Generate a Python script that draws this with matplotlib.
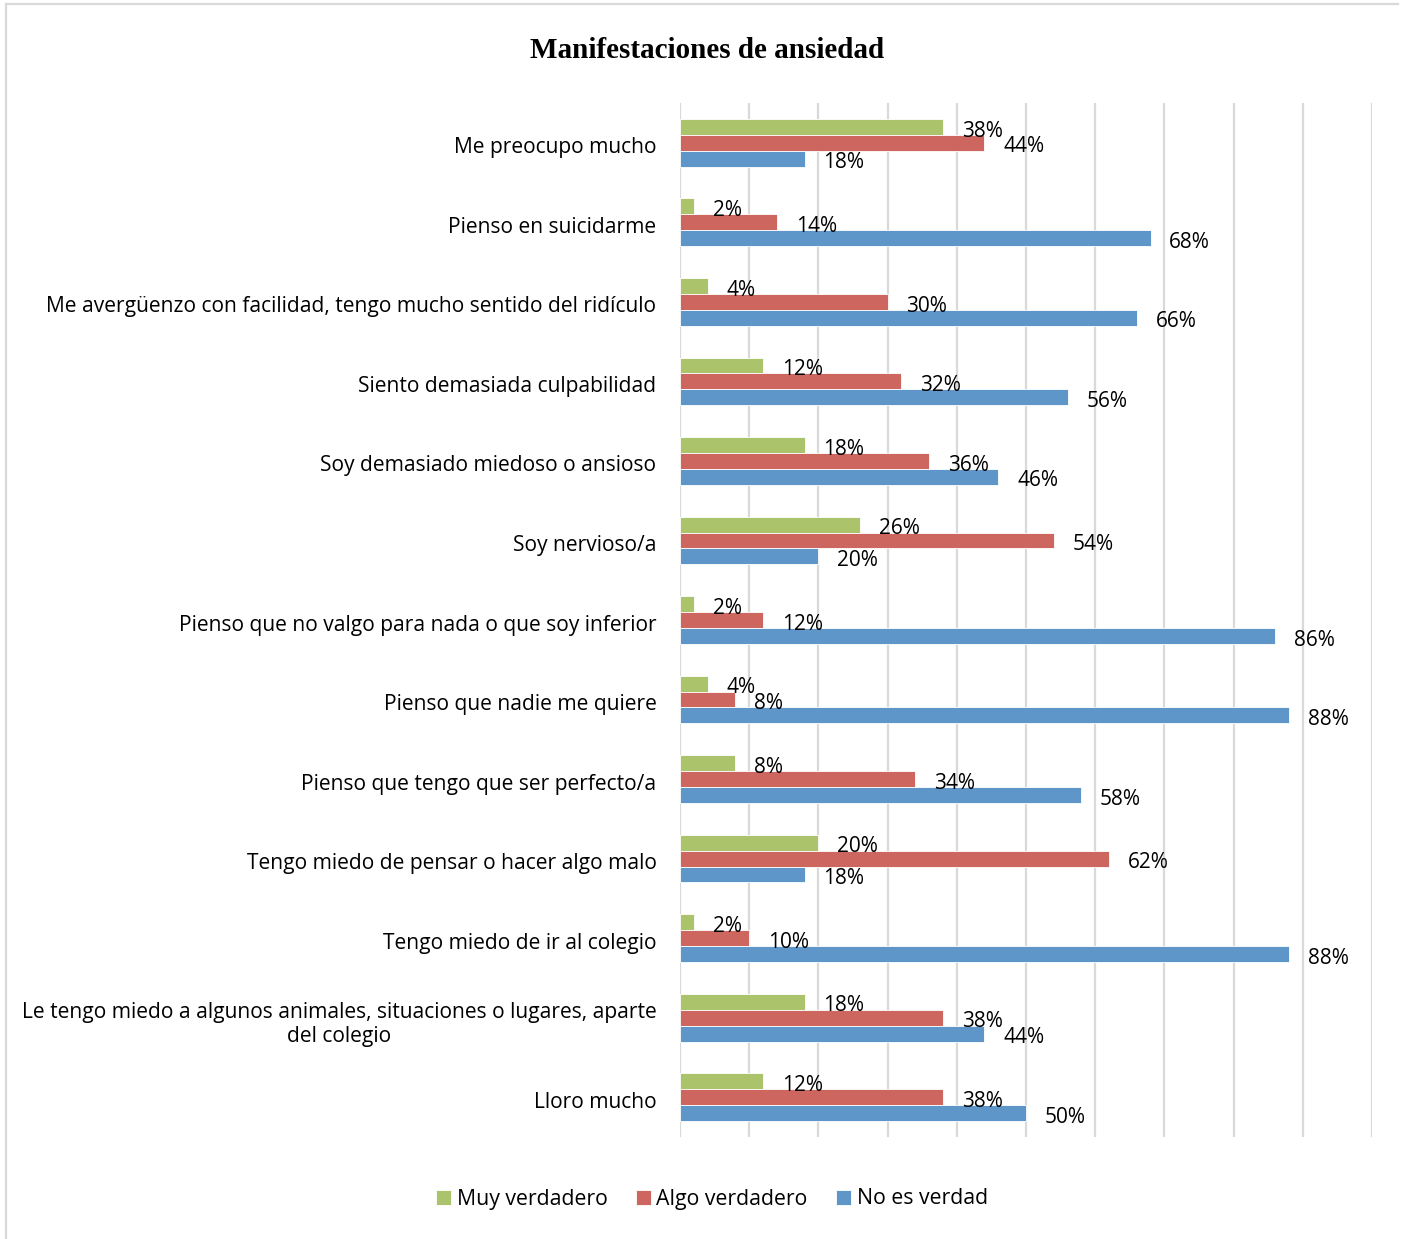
import matplotlib
matplotlib.use("Agg")
import matplotlib.pyplot as plt
from matplotlib.lines import Line2D
import matplotlib.transforms as mtransforms
import numpy as np

categories = [
    "Me preocupo mucho",
    "Pienso en suicidarme",
    "Me avergüenzo con facilidad, tengo mucho sentido del ridículo",
    "Siento demasiada culpabilidad",
    "Soy demasiado miedoso o ansioso",
    "Soy nervioso/a",
    "Pienso que no valgo para nada o que soy inferior",
    "Pienso que nadie me quiere",
    "Pienso que tengo que ser perfecto/a",
    "Tengo miedo de pensar o hacer algo malo",
    "Tengo miedo de ir al colegio",
    "Le tengo miedo a algunos animales, situaciones o lugares, aparte\ndel colegio",
    "Lloro mucho",
]
muy_verdadero = [38, 2, 4, 12, 18, 26, 2, 4, 8, 20, 2, 18, 12]
algo_verdadero = [44, 14, 30, 32, 36, 54, 12, 8, 34, 62, 10, 38, 38]
no_es_verdad = [18, 68, 66, 56, 46, 20, 86, 88, 58, 18, 88, 44, 50]
series_names = ["Muy verdadero", "Algo verdadero", "No es verdad"]
colors = ["#ABC46B", "#CD665E", "#5F96C9"]

label_font = ["Open Sans", "DejaVu Sans"]

fig = plt.figure(figsize=(14.05, 12.39), dpi=100)
ax = fig.add_axes([680/1405, 1 - 1137/1239, (1372-680)/1405, (1137-103)/1239])

n = len(categories)
y = np.arange(n)
h = 0.2
data = [muy_verdadero, algo_verdadero, no_es_verdad]
offsets = [-h, 0, h]
for vals, off, c, name in zip(data, offsets, colors, series_names):
    ax.barh(y + off, vals, height=h, color=c, edgecolor="white", linewidth=0.6, label=name, zorder=3)
    for yi, v in zip(y + off, vals):
        ax.annotate(f"{v}%", xy=(v, yi), xytext=(13.5, -3), textcoords="offset points",
                    ha="left", va="center", fontsize=15, family=label_font, zorder=4)

ax.set_xlim(0, 100)
ax.set_ylim(n - 0.5, -0.5)
ax.set_xticks(np.arange(0, 101, 10))
ax.set_xticklabels([])
ax.tick_params(axis="x", length=0)
ax.tick_params(axis="y", length=0, pad=17)
ax.set_yticks(y)
ax.set_yticklabels(categories, fontsize=15.1, family=label_font, multialignment="center")
shift = mtransforms.ScaledTranslation(0, -2.5 / 100, fig.dpi_scale_trans)
for lbl in ax.get_yticklabels():
    lbl.set_transform(lbl.get_transform() + shift)
ax.grid(axis="x", color="#D9D9D9", linewidth=1.6, zorder=0)
for s in ax.spines.values():
    s.set_visible(False)

fig.text(707/1405, 1 - 51/1239, "Manifestaciones de ansiedad", ha="center", va="center",
         fontsize=21, fontweight="bold", family="Liberation Serif")

fig.legend(loc="center", bbox_to_anchor=(712/1405, 1 - 1199/1239), ncol=3, frameon=False,
           prop={"family": label_font, "size": 15.3}, handlelength=0.7, handleheight=0.7,
           handletextpad=0.25, columnspacing=1.35)

fig.add_artist(Line2D([6/1405, 1398/1405], [1 - 4/1239, 1 - 4/1239], transform=fig.transFigure,
                      color="#D9D9D9", linewidth=1.6))
fig.add_artist(Line2D([6/1405, 6/1405], [1 - 4/1239, 0], transform=fig.transFigure,
                      color="#D9D9D9", linewidth=1.6))

fig.savefig("out.png", dpi=100)
